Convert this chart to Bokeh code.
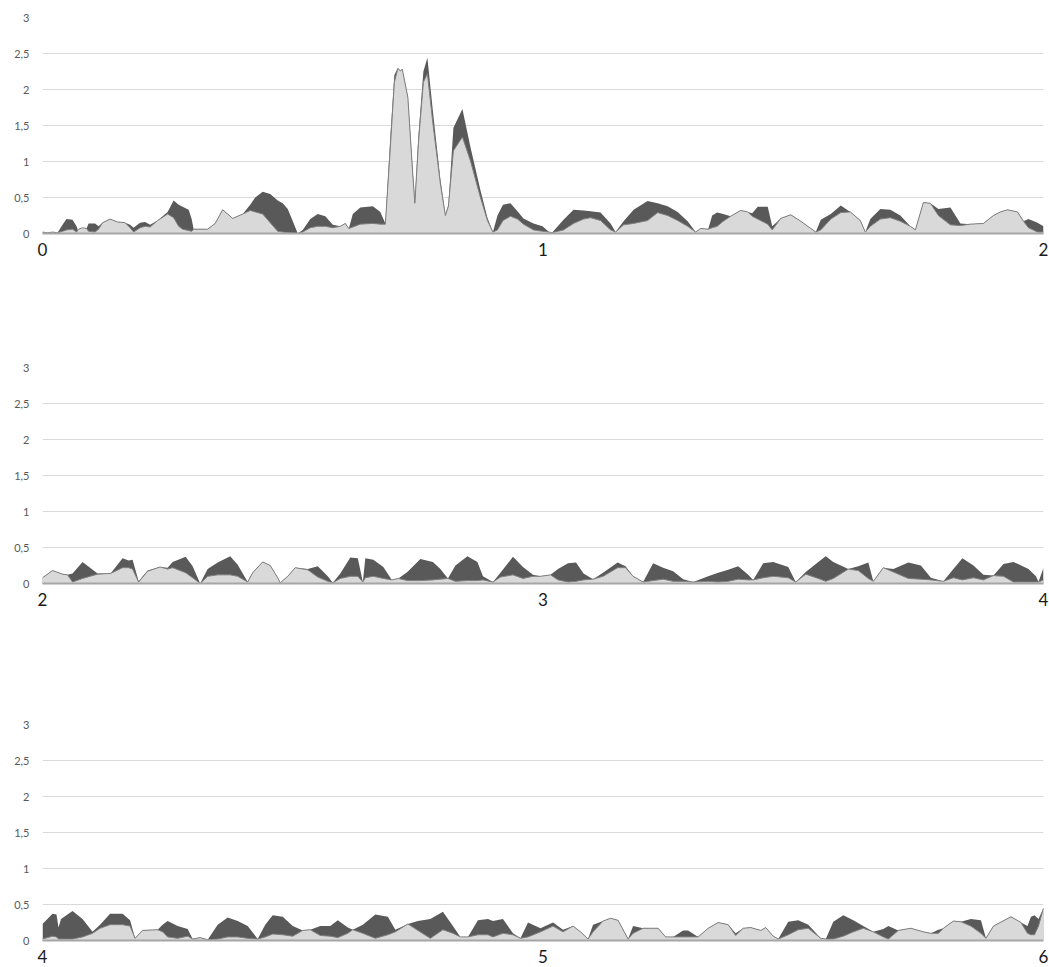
from bokeh.plotting import figure
from bokeh.layouts import column
from bokeh.models import ColumnDataSource, FixedTicker
from bokeh.embed import file_html
from bokeh.resources import INLINE

Y_TICKS = [0, 0.5, 1, 1.5, 2, 2.5, 3]
Y_LABELS = ["0", "0,5", "1", "1,5", "2", "2,5", "3"]

# ---------- panel 1 : 0 .. 2 ----------
P1_X = [0.000, 0.010, 0.020, 0.030, 0.040, 0.048, 0.060, 0.068, 0.072, 0.080,
        0.088, 0.092, 0.105, 0.112, 0.120, 0.135, 0.150, 0.165, 0.175, 0.182,
        0.195, 0.205, 0.215, 0.230, 0.250, 0.262, 0.272, 0.280, 0.292, 0.298,
        0.302, 0.330, 0.345, 0.360, 0.380, 0.400, 0.415, 0.425, 0.440, 0.455,
        0.470, 0.480, 0.490, 0.503, 0.510, 0.520, 0.535, 0.550, 0.565, 0.580,
        0.595, 0.605, 0.612, 0.620, 0.635, 0.660, 0.675, 0.685, 0.695, 0.703,
        0.710, 0.715, 0.719, 0.730, 0.740, 0.744, 0.751, 0.761, 0.769, 0.780,
        0.795, 0.805, 0.811, 0.821, 0.839, 0.855, 0.875, 0.889, 0.900, 0.909,
        0.920, 0.935, 0.949, 0.961, 0.981, 0.999, 1.012, 1.018, 1.041, 1.061,
        1.081, 1.095, 1.115, 1.135, 1.145, 1.161, 1.181, 1.209, 1.229, 1.249,
        1.269, 1.289, 1.305, 1.315, 1.330, 1.338, 1.348, 1.360, 1.375, 1.395,
        1.409, 1.418, 1.429, 1.449, 1.458, 1.475, 1.495, 1.515, 1.535, 1.545,
        1.555, 1.575, 1.595, 1.614, 1.634, 1.644, 1.654, 1.674, 1.694, 1.714,
        1.734, 1.744, 1.760, 1.774, 1.790, 1.814, 1.834, 1.854, 1.880, 1.900,
        1.914, 1.928, 1.948, 1.960, 1.970, 1.988, 2.000]
P1_DARK = [0.02, 0.01, 0.02, 0.01, 0.12, 0.20, 0.19, 0.10, 0.02, 0.07,
           0.07, 0.14, 0.14, 0.10, 0.15, 0.20, 0.16, 0.15, 0.12, 0.08,
           0.15, 0.16, 0.12, 0.18, 0.30, 0.46, 0.40, 0.37, 0.33, 0.20,
           0.06, 0.06, 0.14, 0.33, 0.21, 0.27, 0.40, 0.50, 0.58, 0.55,
           0.46, 0.42, 0.34, 0.12, 0.00, 0.05, 0.20, 0.27, 0.24, 0.12,
           0.10, 0.14, 0.07, 0.27, 0.36, 0.38, 0.30, 0.14, 1.35, 2.20,
           2.30, 2.26, 2.28, 1.90, 0.85, 0.45, 1.35, 2.25, 2.44, 1.70,
           0.75, 0.26, 0.40, 1.47, 1.73, 1.20, 0.60, 0.22, 0.02, 0.25,
           0.40, 0.42, 0.31, 0.21, 0.14, 0.10, 0.02, 0.01, 0.19, 0.33,
           0.32, 0.31, 0.29, 0.14, 0.02, 0.17, 0.33, 0.45, 0.42, 0.38,
           0.30, 0.17, 0.02, 0.07, 0.06, 0.25, 0.29, 0.27, 0.24, 0.32,
           0.30, 0.28, 0.37, 0.37, 0.10, 0.21, 0.26, 0.17, 0.07, 0.02,
           0.19, 0.27, 0.39, 0.30, 0.18, 0.02, 0.20, 0.34, 0.33, 0.25,
           0.10, 0.05, 0.43, 0.42, 0.34, 0.36, 0.14, 0.13, 0.14, 0.25,
           0.30, 0.33, 0.30, 0.17, 0.20, 0.15, 0.10]
P1_LIGHT = [0.02, 0.01, 0.02, 0.01, 0.03, 0.05, 0.06, 0.02, 0.06, 0.08,
            0.07, 0.03, 0.02, 0.06, 0.15, 0.20, 0.16, 0.15, 0.08, 0.02,
            0.08, 0.10, 0.09, 0.18, 0.27, 0.22, 0.10, 0.06, 0.04, 0.03,
            0.06, 0.06, 0.14, 0.33, 0.21, 0.27, 0.32, 0.30, 0.27, 0.15,
            0.03, 0.02, 0.01, 0.00, 0.00, 0.02, 0.08, 0.10, 0.10, 0.08,
            0.10, 0.14, 0.07, 0.09, 0.13, 0.14, 0.13, 0.13, 1.20, 2.10,
            2.29, 2.26, 2.28, 1.89, 0.80, 0.42, 1.25, 2.10, 2.22, 1.53,
            0.69, 0.25, 0.38, 1.15, 1.34, 1.01, 0.50, 0.18, 0.02, 0.05,
            0.18, 0.24, 0.20, 0.13, 0.05, 0.03, 0.02, 0.01, 0.05, 0.14,
            0.20, 0.22, 0.18, 0.05, 0.02, 0.12, 0.14, 0.18, 0.29, 0.25,
            0.18, 0.10, 0.02, 0.07, 0.06, 0.08, 0.10, 0.17, 0.24, 0.32,
            0.30, 0.24, 0.20, 0.13, 0.05, 0.21, 0.26, 0.17, 0.07, 0.02,
            0.05, 0.20, 0.29, 0.30, 0.18, 0.02, 0.10, 0.20, 0.22, 0.17,
            0.10, 0.05, 0.43, 0.42, 0.25, 0.12, 0.11, 0.13, 0.14, 0.25,
            0.30, 0.33, 0.30, 0.17, 0.08, 0.02, 0.02]

# ---------- panel 2 : 2 .. 4 ----------
P2_X = [2.000, 2.020, 2.040, 2.050, 2.060, 2.080, 2.110, 2.136, 2.160, 2.172,
        2.180, 2.192, 2.210, 2.235, 2.250, 2.260, 2.286, 2.300, 2.315, 2.330,
        2.350, 2.375, 2.390, 2.410, 2.420, 2.440, 2.455, 2.470, 2.475, 2.490,
        2.505, 2.530, 2.550, 2.570, 2.580, 2.595, 2.615, 2.630, 2.640, 2.645,
        2.661, 2.681, 2.698, 2.711, 2.729, 2.755, 2.780, 2.795, 2.810, 2.825,
        2.849, 2.869, 2.880, 2.900, 2.915, 2.940, 2.960, 2.980, 2.995, 3.015,
        3.030, 3.050, 3.066, 3.081, 3.100, 3.120, 3.149, 3.165, 3.180, 3.200,
        3.220, 3.240, 3.260, 3.280, 3.300, 3.330, 3.350, 3.370, 3.390, 3.410,
        3.420, 3.440, 3.460, 3.490, 3.505, 3.525, 3.550, 3.565, 3.580, 3.610,
        3.630, 3.650, 3.660, 3.680, 3.700, 3.730, 3.755, 3.775, 3.800, 3.820,
        3.838, 3.860, 3.880, 3.900, 3.920, 3.940, 3.970, 3.985, 3.990, 4.000]
P2_DARK = [0.08, 0.18, 0.13, 0.12, 0.14, 0.30, 0.14, 0.14, 0.35, 0.32,
           0.33, 0.03, 0.18, 0.23, 0.22, 0.30, 0.37, 0.24, 0.00, 0.20,
           0.29, 0.38, 0.26, 0.02, 0.15, 0.30, 0.25, 0.08, 0.01, 0.10,
           0.22, 0.20, 0.24, 0.10, 0.01, 0.14, 0.36, 0.35, 0.02, 0.35,
           0.33, 0.23, 0.05, 0.07, 0.16, 0.34, 0.30, 0.20, 0.07, 0.25,
           0.38, 0.30, 0.10, 0.02, 0.15, 0.37, 0.23, 0.12, 0.10, 0.12,
           0.20, 0.28, 0.29, 0.14, 0.06, 0.15, 0.29, 0.24, 0.10, 0.02,
           0.28, 0.22, 0.17, 0.06, 0.02, 0.10, 0.15, 0.19, 0.24, 0.12,
           0.05, 0.28, 0.30, 0.23, 0.02, 0.16, 0.30, 0.38, 0.30, 0.20,
           0.24, 0.29, 0.03, 0.22, 0.20, 0.29, 0.25, 0.08, 0.03, 0.20,
           0.35, 0.25, 0.12, 0.11, 0.27, 0.30, 0.20, 0.10, 0.02, 0.22]
P2_LIGHT = [0.08, 0.18, 0.13, 0.12, 0.02, 0.07, 0.13, 0.14, 0.22, 0.22,
            0.20, 0.02, 0.17, 0.23, 0.20, 0.22, 0.15, 0.08, 0.00, 0.10,
            0.12, 0.12, 0.10, 0.02, 0.15, 0.30, 0.25, 0.08, 0.01, 0.10,
            0.22, 0.19, 0.09, 0.03, 0.01, 0.07, 0.10, 0.10, 0.02, 0.08,
            0.10, 0.07, 0.05, 0.07, 0.04, 0.04, 0.05, 0.06, 0.07, 0.03,
            0.04, 0.04, 0.05, 0.02, 0.09, 0.12, 0.07, 0.10, 0.10, 0.12,
            0.05, 0.02, 0.03, 0.05, 0.06, 0.10, 0.22, 0.22, 0.10, 0.02,
            0.04, 0.06, 0.03, 0.03, 0.02, 0.03, 0.02, 0.03, 0.06, 0.05,
            0.05, 0.08, 0.10, 0.08, 0.02, 0.13, 0.07, 0.03, 0.07, 0.20,
            0.18, 0.07, 0.03, 0.22, 0.16, 0.07, 0.06, 0.05, 0.03, 0.08,
            0.05, 0.08, 0.05, 0.11, 0.10, 0.02, 0.02, 0.02, 0.02, 0.05]

# ---------- panel 3 : 4 .. 6 ----------
P3_X = [4.000, 4.020, 4.028, 4.032, 4.037, 4.060, 4.080, 4.100, 4.115, 4.135,
        4.160, 4.175, 4.185, 4.200, 4.230, 4.240, 4.250, 4.270, 4.290, 4.300,
        4.315, 4.330, 4.350, 4.370, 4.390, 4.410, 4.430, 4.445, 4.460, 4.480,
        4.500, 4.520, 4.535, 4.555, 4.575, 4.590, 4.610, 4.620, 4.640, 4.665,
        4.690, 4.705, 4.730, 4.750, 4.775, 4.800, 4.820, 4.835, 4.850, 4.870,
        4.890, 4.900, 4.920, 4.940, 4.955, 4.970, 4.995, 5.020, 5.040, 5.060,
        5.075, 5.090, 5.100, 5.120, 5.135, 5.150, 5.170, 5.180, 5.200, 5.230,
        5.245, 5.260, 5.280, 5.290, 5.310, 5.330, 5.350, 5.370, 5.385, 5.400,
        5.415, 5.435, 5.445, 5.460, 5.470, 5.490, 5.510, 5.530, 5.555, 5.565,
        5.580, 5.600, 5.620, 5.640, 5.660, 5.680, 5.690, 5.710, 5.735, 5.760,
        5.775, 5.790, 5.800, 5.820, 5.835, 5.855, 5.875, 5.885, 5.900, 5.935,
        5.955, 5.968, 5.975, 5.982, 5.990, 6.000]
P3_DARK = [0.23, 0.37, 0.36, 0.18, 0.30, 0.41, 0.30, 0.12, 0.22, 0.37,
           0.37, 0.28, 0.03, 0.14, 0.15, 0.22, 0.27, 0.20, 0.16, 0.02,
           0.04, 0.01, 0.22, 0.32, 0.27, 0.20, 0.02, 0.22, 0.35, 0.33,
           0.20, 0.14, 0.15, 0.20, 0.20, 0.28, 0.18, 0.15, 0.22, 0.36,
           0.33, 0.15, 0.23, 0.27, 0.30, 0.40, 0.20, 0.05, 0.05, 0.28,
           0.30, 0.27, 0.30, 0.10, 0.03, 0.25, 0.17, 0.25, 0.15, 0.20,
           0.12, 0.02, 0.22, 0.27, 0.31, 0.28, 0.02, 0.20, 0.17, 0.17,
           0.05, 0.05, 0.14, 0.14, 0.05, 0.17, 0.25, 0.22, 0.10, 0.17,
           0.18, 0.14, 0.18, 0.06, 0.02, 0.26, 0.28, 0.22, 0.03, 0.02,
           0.26, 0.35, 0.28, 0.20, 0.12, 0.16, 0.20, 0.14, 0.17, 0.12,
           0.10, 0.15, 0.17, 0.27, 0.26, 0.30, 0.28, 0.03, 0.20, 0.33,
           0.25, 0.20, 0.33, 0.35, 0.30, 0.45]
P3_LIGHT = [0.02, 0.06, 0.05, 0.02, 0.02, 0.02, 0.05, 0.10, 0.17, 0.22,
            0.22, 0.20, 0.03, 0.14, 0.15, 0.12, 0.05, 0.03, 0.06, 0.02,
            0.04, 0.01, 0.02, 0.05, 0.05, 0.03, 0.02, 0.05, 0.09, 0.08,
            0.06, 0.14, 0.15, 0.07, 0.06, 0.04, 0.10, 0.15, 0.10, 0.03,
            0.08, 0.12, 0.23, 0.14, 0.03, 0.15, 0.10, 0.05, 0.05, 0.08,
            0.08, 0.05, 0.10, 0.08, 0.03, 0.05, 0.12, 0.20, 0.12, 0.20,
            0.12, 0.02, 0.12, 0.27, 0.31, 0.28, 0.02, 0.10, 0.17, 0.17,
            0.05, 0.05, 0.05, 0.05, 0.05, 0.17, 0.25, 0.22, 0.07, 0.17,
            0.18, 0.14, 0.18, 0.06, 0.02, 0.08, 0.15, 0.17, 0.03, 0.02,
            0.02, 0.06, 0.12, 0.17, 0.12, 0.05, 0.02, 0.14, 0.17, 0.12,
            0.10, 0.10, 0.17, 0.27, 0.26, 0.20, 0.10, 0.03, 0.20, 0.33,
            0.25, 0.10, 0.08, 0.08, 0.20, 0.45]

PANELS = [(P1_X, P1_DARK, P1_LIGHT), (P2_X, P2_DARK, P2_LIGHT), (P3_X, P3_DARK, P3_LIGHT)]
X_STARTS = [0, 2, 4]

DARK = "#595959"
LIGHT = "#d9d9d9"
EDGE = "#7f7f7f"
FONT = "Lato"

heights = [350, 357, 260]
bottoms = [117, 124, 27]

figs = []
for (xs, dk, lt), x0, h, b in zip(PANELS, X_STARTS, heights, bottoms):
    p = figure(width=1049, height=h, x_range=(x0, x0 + 2), y_range=(0, 3),
               output_backend="svg", toolbar_location=None,
               min_border_left=42, min_border_right=6, min_border_top=17,
               min_border_bottom=b)
    src = ColumnDataSource(dict(x=xs, dark=dk, light=lt, base=[0] * len(xs)))
    p.varea(x="x", y1="base", y2="dark", source=src, fill_color=DARK)
    p.varea(x="x", y1="base", y2="light", source=src, fill_color=LIGHT)
    p.line(x="x", y="light", source=src, line_color=EDGE, line_width=1)

    p.outline_line_color = None
    p.background_fill_color = "white"
    p.border_fill_color = "white"
    p.xgrid.visible = False
    p.ygrid.grid_line_color = "#d9d9d9"
    p.ygrid.grid_line_width = 1

    p.yaxis.ticker = FixedTicker(ticks=Y_TICKS)
    p.yaxis.major_label_overrides = {t: l for t, l in zip(Y_TICKS, Y_LABELS)}
    p.yaxis.axis_line_color = None
    p.yaxis.major_tick_line_color = None
    p.yaxis.minor_tick_line_color = None
    p.yaxis.major_label_text_font = FONT
    p.yaxis.major_label_text_font_size = "11px"
    p.yaxis.major_label_text_color = "#595959"
    p.yaxis.major_label_standoff = 7

    p.xaxis.ticker = FixedTicker(ticks=[x0, x0 + 1, x0 + 2])
    p.xaxis.axis_line_color = "#a6a6a6"
    p.xaxis.axis_line_width = 2
    p.xaxis.major_tick_line_color = None
    p.xaxis.minor_tick_line_color = None
    p.xaxis.major_label_text_font = FONT
    p.xaxis.major_label_text_font_size = "17px"
    p.xaxis.major_label_text_color = "#1a1a1a"
    p.xaxis.major_label_standoff = 3
    figs.append(p)

layout = column(*figs, spacing=0)
open("out.html", "w").write(file_html(layout, INLINE))
